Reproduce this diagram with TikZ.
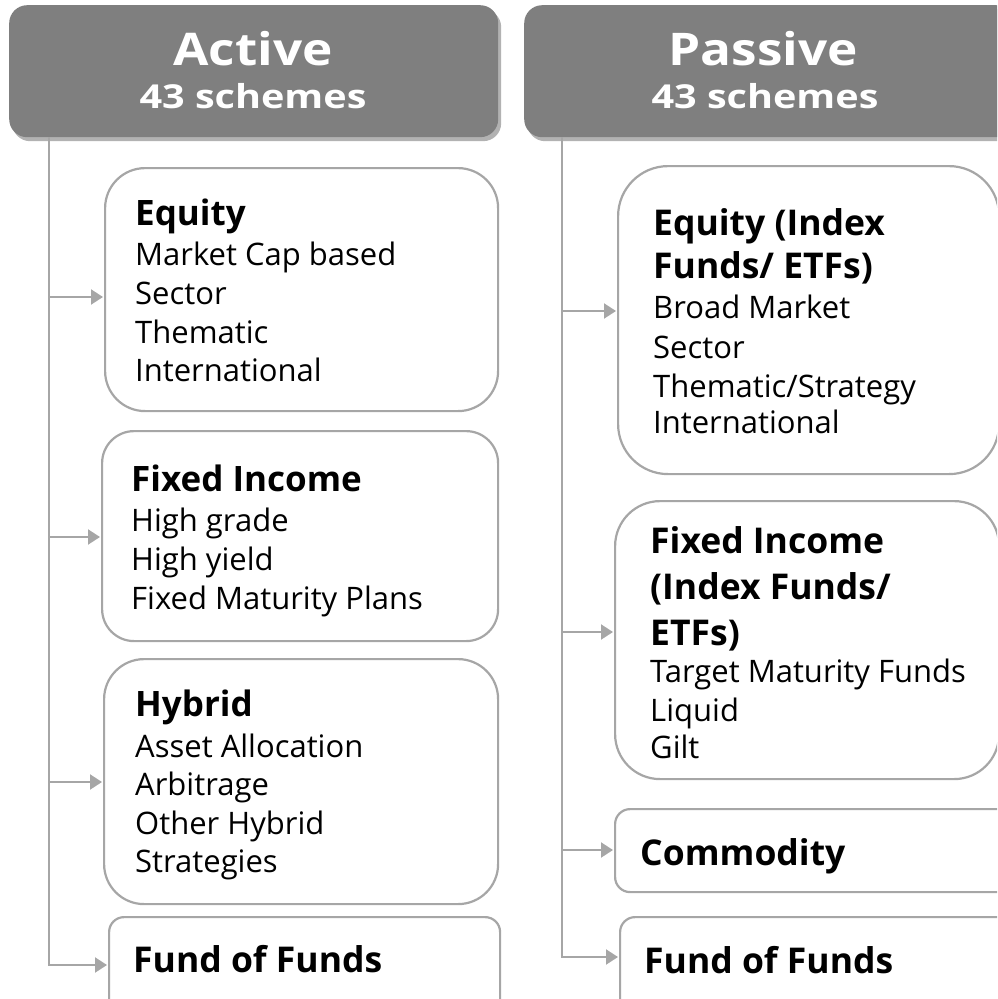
\documentclass[tikz,border=0pt]{standalone}
\usepackage{fontspec}
\setmainfont{Open Sans}
\newfontfamily\hdrfont[FakeStretch=1.14]{Open Sans}
\newfontfamily\subfont[FakeStretch=1.2]{Open Sans}
\usetikzlibrary{arrows.meta,shadows}
\definecolor{hdr}{HTML}{7F7F7F}
\definecolor{ln}{HTML}{A6A6A6}
\begin{document}
\begin{tikzpicture}[x=1pt,y=-1pt,
  hdrbox/.style={fill=hdr, draw=none, rounded corners=18pt, anchor=north west, inner sep=0pt,
    drop shadow={shadow xshift=3pt, shadow yshift=-4pt, opacity=0.3, fill=black}},
  catbox/.style={draw=ln, line width=2.2pt, fill=white, anchor=north west, inner sep=0pt},
  htitle/.style={anchor=base, inner sep=0pt, text=white, font=\hdrfont\bfseries\fontsize{45}{50}\selectfont},
  hsub/.style={anchor=base, inner sep=0pt, text=white, font=\subfont\bfseries\fontsize{33}{40}\selectfont},
  itm/.style={anchor=base west, inner sep=0pt, font=\fontsize{31}{37}\selectfont},
  ttl/.style={anchor=base west, inner sep=0pt, font=\bfseries\fontsize{35}{40}\selectfont},
  ttlb/.style={anchor=base west, inner sep=0pt, font=\bfseries\fontsize{35.5}{40}\selectfont},
  conn/.style={draw=ln, line width=2pt},
  arr/.style={draw=ln, line width=2pt, -{Triangle[length=12pt,width=15pt]}, shorten >=1pt}
]
\useasboundingbox (0,0) rectangle (997,999);
\clip (0,0) rectangle (997,999);

% headers
\node[hdrbox, minimum width=489, minimum height=132] (ha) at (9,5) {};
\node[htitle] (hat) at (253,65) {Active};
\node[hsub] (has) at (253,108) {43 schemes};
\node[hdrbox, minimum width=490, minimum height=132] (hp) at (524,5) {};
\node[htitle] (hpt) at (763,65) {Passive};
\node[hsub] (hps) at (765,108) {43 schemes};

% left boxes
\node[catbox, rounded corners=40pt, minimum width=393, minimum height=243] (leq) at (104,167) {};
\node[catbox, rounded corners=32pt, minimum width=396, minimum height=210] (lfi) at (101,430) {};
\node[catbox, rounded corners=40pt, minimum width=394, minimum height=245] (lhy) at (103,658) {};
\node[catbox, rounded corners=15pt, minimum width=391, minimum height=100] (lff) at (108,916) {};

% right boxes
\node[catbox, rounded corners=50pt, minimum width=381, minimum height=308] (req) at (617,165) {};
\node[catbox, rounded corners=45pt, minimum width=384, minimum height=278] (rfi) at (614,500) {};
\node[catbox, rounded corners=15pt, minimum width=400, minimum height=83] (rco) at (614,808) {};
\node[catbox, rounded corners=15pt, minimum width=400, minimum height=100] (rff) at (619,916) {};

% left texts
\node[ttl] (leq0) at (135,225) {Equity};
\node[itm] (leq1) at (135,265) {Market Cap based};
\node[itm] (leq2) at (135,304) {Sector};
\node[itm] (leq3) at (135,343) {Thematic};
\node[itm] (leq4) at (135,381) {International};

\node[ttl] (lfi0) at (131,491) {Fixed Income};
\node[itm] (lfi1) at (131,531) {High grade};
\node[itm] (lfi2) at (131,570) {High yield};
\node[itm] (lfi3) at (131,609) {Fixed Maturity Plans};

\node[ttl] (lhy0) at (135,716) {Hybrid};
\node[itm] (lhy1) at (135,757) {Asset Allocation};
\node[itm] (lhy2) at (135,795) {Arbitrage};
\node[itm] (lhy3) at (135,834) {Other Hybrid};
\node[itm] (lhy4) at (135,872) {Strategies};

\node[ttlb] (lff0) at (133,972) {Fund of Funds};

% right texts
\node[ttlb] (req0) at (653,235) {Equity (Index};
\node[ttlb] (req1) at (653,278) {Funds/ ETFs)};
\node[itm] (req2) at (653,318) {Broad Market};
\node[itm] (req3) at (653,358) {Sector};
\node[itm] (req4) at (653,397) {Thematic/Strategy};
\node[itm] (req5) at (653,433) {International};

\node[ttlb] (rfi0) at (650,553) {Fixed Income};
\node[ttlb] (rfi1) at (650,599) {(Index Funds/};
\node[ttlb] (rfi2) at (650,645) {ETFs)};
\node[itm] (rfi3) at (650,682) {Target Maturity Funds};
\node[itm] (rfi4) at (650,721) {Liquid};
\node[itm] (rfi5) at (650,758) {Gilt};

\node[ttlb] (rco0) at (640,865) {Commodity};
\node[ttlb] (rff0) at (644,973) {Fund of Funds};

% connectors left
\coordinate (ta) at (49,137);
\coordinate (ta1) at (49,297);
\coordinate (ta2) at (49,537);
\coordinate (ta3) at (49,782);
\draw[arr] (ta) |- (lff.west |- 0,965);
\draw[arr] (ta1) -- (leq.west |- ta1);
\draw[arr] (ta2) -- (lfi.west |- ta2);
\draw[arr] (ta3) -- (lhy.west |- ta3);

% connectors right
\coordinate (tp) at (562,137);
\coordinate (tp1) at (562,311);
\coordinate (tp2) at (562,632);
\coordinate (tp3) at (562,850);
\draw[arr] (tp) |- (rff.west |- 0,957);
\draw[arr] (tp1) -- (req.west |- tp1);
\draw[arr] (tp2) -- (rfi.west |- tp2);
\draw[arr] (tp3) -- (rco.west |- tp3);
\end{tikzpicture}
\end{document}
